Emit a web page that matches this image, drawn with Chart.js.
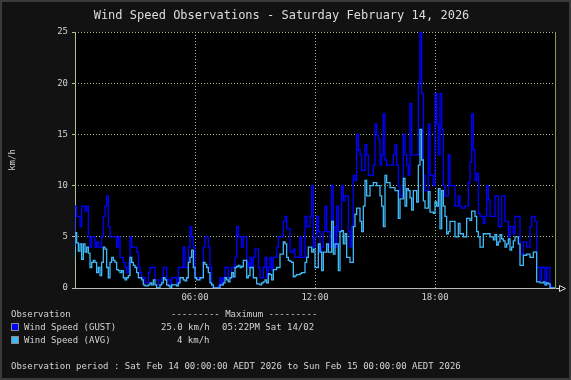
<!DOCTYPE html>
<html><head><meta charset="utf-8">
<script src="https://cdn.jsdelivr.net/npm/chart.js@4"></script>
<style>
html,body{margin:0;padding:0;background:#121212;}
#wrap{position:relative;width:571px;height:380px;background:#121212;box-shadow:inset 0 0 0 2px #3a3a3a;overflow:hidden;font-family:"DejaVu Sans Mono",monospace;color:#d4d4d4;}
#wrap canvas{position:absolute;left:0;top:0;}
.t{position:absolute;white-space:pre;font-size:9px;line-height:11px;}
#title{position:absolute;left:0;width:563px;top:8px;text-align:center;font-size:12px;line-height:14px;white-space:pre;color:#dcdcdc;}
.sw{position:absolute;width:6px;height:6px;border:1px solid #8a8a8a;}
</style></head>
<body>
<div id="wrap">
  <canvas id="c" width="571" height="380"></canvas>
  <div id="title">Wind Speed Observations - Saturday February 14, 2026</div>
  <div class="t" style="left:11px;top:309px;">Observation</div>
  <div class="t" style="left:171px;top:309px;">--------- Maximum ---------</div>
  <div class="sw" style="left:11px;top:323px;background:#0000ff;"></div>
  <div class="t" style="left:24px;top:322px;">Wind Speed (GUST)</div>
  <div class="t" style="left:161px;top:322px;">25.0 km/h</div>
  <div class="t" style="left:222px;top:322px;">05:22PM Sat 14/02</div>
  <div class="sw" style="left:11px;top:336px;background:#40b8f8;"></div>
  <div class="t" style="left:24px;top:335px;">Wind Speed (AVG)</div>
  <div class="t" style="left:177px;top:335px;">4 km/h</div>
  <div class="t" style="left:11px;top:361px;">Observation period : Sat Feb 14 00:00:00 AEDT 2026 to Sun Feb 15 00:00:00 AEDT 2026</div>
</div>
<script>
// ---- data (5-minute slots starting 00:00, one row per hour) ----
const slotMinutes = 5;
const gust = [
  4, 8, 7, 7, 6, 8, 8, 7.5, 8, 5, 4, 5,
  5, 4, 4.5, 4, 4, 5, 7, 8, 9, 6, 5, 5,
  5, 5, 4, 5, 3, 3, 2.5, 2, 1.5, 2.5, 5, 4,
  4, 4, 3.5, 2, 1.5, 1, 1, 0.5, 0.5, 1.5, 2, 2,
  2, 0.8, 0.8, 0.3, 0.3, 1, 2, 2, 0.8, 0.8, 0.2, 1,
  1, 1, 0.3, 2, 2, 2, 4, 2, 2, 4, 6, 5,
  4, 1, 1, 1, 1, 1, 4, 5, 5, 4, 2, 0.3,
  0, 0, 0, 0.3, 1, 0.3, 1, 2, 2, 1, 1, 2,
  2, 3, 6, 5, 5, 4, 5, 5, 2.5, 2, 3, 2,
  3, 3.8, 3.8, 2, 1, 1, 2, 3, 1, 2, 3, 1.7,
  3, 3, 4, 5, 5, 5, 6.5, 7, 5.8, 5.8, 3.5, 3.5,
  3.8, 3, 3, 3, 5, 3, 3, 7, 6, 6, 7, 10,
  4, 5, 7, 5.5, 3.5, 4, 5.5, 8, 5.5, 5.5, 4, 10,
  6, 4, 8, 5.5, 5.5, 10, 8.5, 9, 9, 5.5, 4, 6,
  11, 10.5, 15, 13.5, 13, 11.5, 11.5, 14, 13, 11, 11, 11,
  12, 16, 15, 14.5, 12, 13, 17, 12.5, 12, 12, 12, 12,
  13, 14, 12, 10, 9, 9, 15, 13, 12, 11, 18, 13,
  13, 13, 13, 20, 25, 19, 11, 9.5, 9.5, 16, 11, 11,
  10, 19, 16, 13, 19, 15.5, 10, 9, 9, 13, 10, 10,
  10, 8, 8, 9, 8, 7.8, 7.8, 8, 8, 10.3, 12.3, 17,
  13.5, 10.5, 11.2, 7.3, 7, 7, 6.3, 7, 10, 8.6, 7, 7,
  7, 9, 9, 6, 6, 9, 9, 6.5, 6.5, 5, 6, 6,
  5.3, 7, 7, 7, 3.3, 3.3, 4.5, 4.5, 4, 4, 6, 7,
  7, 6.5, 2, 2, 0.7, 2, 2, 0.3, 2, 2, 0.2, 0
];
const avg = [
  3, 5.4, 4.4, 3.6, 4.3, 2.8, 4.3, 3.5, 4, 3.4, 2, 2.5,
  2.7, 2.5, 1.5, 2, 1.2, 2.5, 4, 3.8, 2, 1, 2.5, 3,
  2.7, 2.5, 1.8, 1.7, 1.5, 1.7, 1, 0.8, 1, 1.2, 3, 2.5,
  2.2, 2, 1.5, 1, 1, 0.8, 0.3, 0.2, 0.2, 0.3, 0.5, 0.3,
  0.8, 0.3, 0, 0, 0.3, 0.5, 1, 0.8, 0.3, 0.2, 0, 0.3,
  0.3, 0.3, 0.2, 0.5, 1, 1, 0.8, 0.7, 1, 2.5, 3, 3.7,
  2, 1, 0.8, 0.8, 1, 1, 2.5, 2.3, 2, 1.5, 0.5, 0.3,
  0, 0, 0, 0, 0.3, 0.3, 0.5, 1, 0.8, 0.6, 1, 1.5,
  1.1, 2, 2.1, 2.2, 2, 2.1, 2.7, 2.7, 1, 1.2, 2, 2,
  1, 1, 0.4, 0.4, 0.3, 0.5, 0.6, 0.8, 0.5, 1.4, 1.3, 0.8,
  1.8, 1.8, 2, 2, 3.3, 3.3, 4.5, 4.3, 3, 2.7, 2.6, 2.5,
  1.1, 1.2, 1.3, 1.3, 1.4, 1.5, 1.5, 2.5, 3, 4, 4, 3.5,
  3.8, 2, 2, 4.3, 3.5, 1.7, 3.5, 3.5, 4.3, 3.5, 3.5, 6.5,
  3.3, 4.3, 4.3, 1.7, 5.5, 5.6, 4.3, 5.3, 3, 3, 2.5, 2.5,
  6, 7.2, 7.8, 7.8, 6.5, 5.5, 8, 10.5, 9, 9, 10, 10,
  10.3, 10.3, 10, 10, 9, 8, 6, 11, 10.3, 10.3, 9.8, 9.8,
  9.8, 9.5, 9.5, 6.8, 8.7, 8.7, 10.7, 8, 9.7, 9.5, 8.8, 7.6,
  9.5, 9.5, 8.4, 12, 15.5, 12.5, 8.5, 7.8, 7.8, 9.4, 7.4, 7.4,
  7.3, 8.4, 8, 9.7, 5.8, 9.5, 8, 7, 5.3, 5.5, 6.5, 6.5,
  6.5, 5, 5, 6.3, 5.3, 5.3, 5, 5, 6.8, 6.8, 6.6, 7.5,
  7.5, 7, 5.5, 5, 4, 4, 5.3, 5.3, 5.3, 5.3, 5, 5,
  4.7, 5.2, 4.2, 4.5, 5.2, 4.8, 4.6, 4, 4.3, 4.8, 3.7, 4,
  4.6, 5, 5, 4.3, 2.2, 2.2, 3.2, 3.2, 3.3, 3.3, 3, 3,
  3.5, 3.5, 0.6, 0.6, 0.5, 0.5, 0.6, 0.3, 0.5, 0.4, 0, 0
];
const yTicks = [0, 5, 10, 15, 20, 25];
const xTickHours = [0, 6, 12, 18, 24];
const xTickLabels = ['', '06:00', '12:00', '18:00', ''];
const yAxisTitle = 'km/h';

// ---- styles ----
const GRID = '#a9c48c';
const AXIS_X0 = '#a9c48c';
const AXIS_Y0 = '#b8b8b8';
const RIGHT_EDGE = '#8c9c4c';
const TEXT = '#d0d0d0';

function toPoints(arr) {
  const pts = arr.map((v, i) => ({x: i * slotMinutes / 60, y: v}));
  pts.push({x: arr.length * slotMinutes / 60, y: arr[arr.length - 1]});
  return pts;
}

Chart.defaults.font.family = "'DejaVu Sans Mono', monospace";
Chart.defaults.font.size = 9;
Chart.defaults.color = TEXT;

const decor = {
  id: 'decor',
  beforeDraw(chart) {
    const {ctx, chartArea: a} = chart;
    ctx.save();
    ctx.fillStyle = '#000';
    ctx.fillRect(a.left, a.top, a.right - a.left, a.bottom - a.top);
    ctx.restore();
  },
  afterDraw(chart) {
    const {ctx, chartArea: a} = chart;
    ctx.save();
    ctx.strokeStyle = '#d8d8d8';
    ctx.lineWidth = 1;
    const y = Math.round(a.bottom) + 0.5;
    const x = Math.round(a.right) + 0.5;
    ctx.beginPath();
    ctx.moveTo(x, y); ctx.lineTo(x + 4, y);
    ctx.moveTo(x + 4, y - 3); ctx.lineTo(x + 10, y); ctx.lineTo(x + 4, y + 3); ctx.closePath();
    ctx.stroke();
    ctx.restore();
  }
};

new Chart(document.getElementById('c'), {
  type: 'line',
  data: {
    datasets: [
      {label: 'Wind Speed (AVG)', data: toPoints(avg), borderColor: '#40b8f8', borderWidth: 1.3, pointRadius: 0, stepped: 'after', order: 0},
      {label: 'Wind Speed (GUST)', data: toPoints(gust), borderColor: '#0000ff', borderWidth: 1.3, pointRadius: 0, stepped: 'after', order: 1}
    ]
  },
  options: {
    responsive: false,
    animation: false,
    events: [],
    layout: {padding: {left: 0, right: 16, top: 32, bottom: 0}},
    plugins: {legend: {display: false}, tooltip: {enabled: false}, title: {display: false}},
    scales: {
      x: {
        type: 'linear', min: 0, max: 24,
        afterBuildTicks(s) { s.ticks = xTickHours.map(v => ({value: v})); },
        afterFit(s) { s.height = 92; },
        ticks: {
          autoSkip: false, maxRotation: 0, padding: 4, color: TEXT,
          callback(v) { const i = xTickHours.indexOf(v); return i >= 0 ? xTickLabels[i] : ''; }
        },
        grid: {
          drawTicks: false,
          color(c) { const v = c.tick && c.tick.value; return v === 24 ? RIGHT_EDGE : (v === 0 ? AXIS_X0 : GRID); }
        },
        border: {
          display: false,
          dash(c) { const v = c.tick && c.tick.value; return (v === 0 || v === 24) ? [] : [1, 2]; }
        }
      },
      y: {
        min: 0, max: 25,
        afterBuildTicks(s) { s.ticks = yTicks.map(v => ({value: v})); },
        afterFit(s) { s.width = 75; },
        ticks: {padding: 4, color: TEXT},
        title: {display: true, text: yAxisTitle, color: TEXT, font: {size: 9}, padding: {top: 7, bottom: 0}},
        grid: {
          drawTicks: true, tickLength: 3, tickColor: GRID,
          color(c) { const v = c.tick && c.tick.value; return v === 0 ? AXIS_Y0 : GRID; }
        },
        border: {
          display: false,
          dash(c) { const v = c.tick && c.tick.value; return v === 0 ? [] : [1, 2]; }
        }
      }
    }
  },
  plugins: [decor]
});
</script>
</body></html>
